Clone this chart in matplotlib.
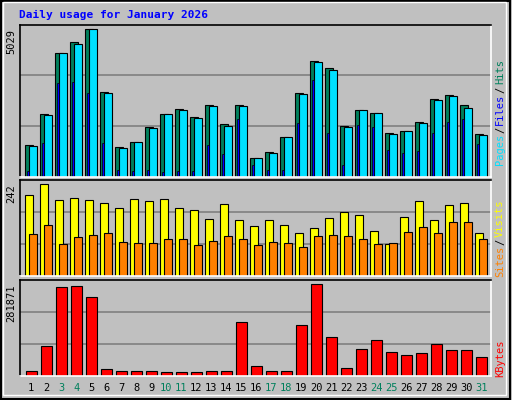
import matplotlib
matplotlib.use("Agg")
from matplotlib import pyplot as plt
import numpy as np

days = np.arange(1, 32)
weekend_days = [3, 4, 10, 11, 17, 18, 24, 25, 31]

hits = [1070, 2128, 4210, 4585, 5029, 2879, 1001, 1172, 1684, 2128, 2298, 2025, 2435, 1786, 2435, 626,
        831, 1343, 2845, 3937, 3698, 1718, 2264, 2162, 1479, 1547, 1855, 2640, 2776, 2435, 1445]
files = [1036, 2094, 4210, 4517, 5029, 2845, 967, 1172, 1650, 2128, 2264, 1991, 2401, 1718, 2401, 626,
         797, 1343, 2810, 3903, 3630, 1684, 2264, 2162, 1445, 1547, 1820, 2605, 2742, 2333, 1411]
pages = [193, 1138, 3186, 3220, 2845, 1138, 216, 182, 216, 148, 182, 182, 1070, 762, 1957, 387,
         216, 216, 1820, 3288, 1479, 387, 1752, 1684, 899, 796, 865, 1479, 1855, 1957, 1104]
visits = [213, 242, 200, 205, 200, 192, 179, 203, 197, 203, 179, 174, 150, 189, 147, 132,
          147, 134, 113, 126, 153, 168, 160, 118, 84, 155, 197, 147, 187, 192, 113]
sites = [110, 134, 84, 103, 108, 113, 89, 87, 87, 97, 97, 82, 92, 105, 97, 82,
         89, 87, 76, 105, 108, 105, 97, 84, 87, 116, 129, 113, 142, 142, 97]
kbytes = [13377, 90550, 272600, 275700, 241700, 19550, 13377, 13377, 13377, 10290, 10290, 10290,
          13377, 13377, 164600, 28800, 13377, 13377, 155300, 281871, 118300, 22630, 81270, 109000,
          72000, 62750, 68920, 96700, 78180, 78180, 56580]

W, H = 512, 400
BG = "#C0C0C0"
GREEN = "#00805C"
CYAN = "#00E0FF"
BLUE = "#0000FF"
YELLOW = "#FFFF00"
ORANGE = "#FF8000"
RED = "#FF0000"
MONO = "DejaVu Sans Mono"


def _panel(fig, top, bottom, ymax, max_px):
    ax = fig.add_axes([20 / W, 1 - bottom / H, 470.7 / W, (bottom - top) / H])
    ax.set_facecolor(BG)
    ax.set_xlim(0.647, 32.03)
    ax.set_ylim(0, ymax * (bottom - top) / max_px)
    top_val = ax.get_ylim()[1]
    for f in (1 / 3, 2 / 3):
        ax.axhline(top_val * f, color="#808080", lw=1.2, zorder=0)
    ax.set_xticks([])
    ax.set_yticks([])
    for s in ("top", "left"):
        ax.spines[s].set_color("black")
    for s in ("bottom", "right"):
        ax.spines[s].set_color("white")
    for s in ax.spines.values():
        s.set_linewidth(1.2)
    ax.text(-0.008, ymax, str(ymax), transform=ax.get_yaxis_transform(), rotation=90,
            ha="right", va="top", fontsize=7.5, family=MONO)
    return ax


def _side_label(fig, parts, y_bottom):
    # stacked rotated pieces, read bottom to top
    y = y_bottom
    for txt, col in parts:
        fig.text(500 / W, 1 - y / H, txt, rotation=90, ha="center", va="bottom",
                 color=col, fontsize=7.5, family=MONO)
        y -= len(txt) * 5.9 + 2.5


fig = plt.figure(figsize=(W / 100, H / 100), dpi=100)
fig.patch.set_facecolor(BG)
fig.add_artist(plt.Rectangle((0.002, 0.003), 0.994, 0.994, transform=fig.transFigure,
                             fill=False, edgecolor="black", lw=1.5))
fig.add_artist(plt.Rectangle((0.006, 0.012), 0.982, 0.982, transform=fig.transFigure,
                             fill=False, edgecolor="white", lw=1.0))
fig.text(19 / W, 1 - 15 / H, "Daily usage for January 2026", color=BLUE, fontsize=8,
         fontweight="bold", family=MONO, va="center")

ax1 = _panel(fig, 24.7, 176.7, 5029, 147.4)
ax1.bar(days, hits, width=0.49, align="edge", color=GREEN, edgecolor="black", lw=0.8)
ax1.bar(days + 0.25, files, width=0.51, align="edge", color=CYAN, edgecolor="black", lw=0.8)
ax1.bar(days + 0.09, pages, width=0.18, align="edge", color=BLUE, edgecolor="black", lw=0.5)
_side_label(fig, [("Pages", CYAN), ("/", "black"), ("Files", BLUE), ("/", "black"), ("Hits", GREEN)], 165)

ax2 = _panel(fig, 180.3, 276.3, 242, 92)
ax2.bar(days, visits, width=0.53, align="edge", color=YELLOW, edgecolor="black", lw=0.8)
ax2.bar(days + 0.27, sites, width=0.49, align="edge", color=ORANGE, edgecolor="black", lw=0.8)
_side_label(fig, [("Sites", ORANGE), ("/", "black"), ("Visits", YELLOW)], 277)

ax3 = _panel(fig, 280.3, 375.7, 281871, 91.3)
ax3.bar(days + 0.05, kbytes, width=0.71, align="edge", color=RED, edgecolor="black", lw=0.8)
_side_label(fig, [("KBytes", RED)], 377)

for d in days:
    ax3.text(d + 0.4, -0.13, str(d), transform=ax3.get_xaxis_transform(), ha="center", va="center",
             fontsize=7.5, family=MONO, color=GREEN if d in weekend_days else "black")

fig.savefig("out.png", dpi=100, facecolor=BG)
